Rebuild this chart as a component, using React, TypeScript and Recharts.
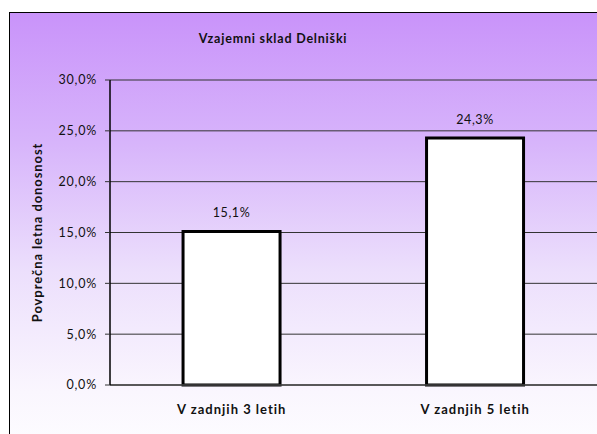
import { BarChart, Bar, XAxis, YAxis, CartesianGrid, LabelList } from 'recharts'

const categories = ['V zadnjih 3 letih', 'V zadnjih 5 letih']
const donosnost = [15.1, 24.3]
const yTicks = [0, 5, 10, 15, 20, 25, 30]

const data = categories.map((name, i) => ({ name, value: donosnost[i] }))

const fmt = (v: number) => v.toFixed(1).replace('.', ',') + '%'
const font = 'Lato, "Open Sans", sans-serif'

export default function App() {
  return (
    <div style={{ position: 'fixed', left: 0, top: 0, width: 597, height: 434, background: '#fff', overflow: 'hidden', fontFamily: font }}>
      <div
        style={{
          position: 'absolute',
          left: 9,
          top: 12,
          width: 600,
          height: 430,
          borderLeft: '1.5px solid #000',
          borderTop: '1.5px solid #000',
          background: 'linear-gradient(to bottom, #c993fa 0%, #d7b4fb 30%, #ecdffc 60%, #faf6fe 88%, #fdfcff 100%)',
        }}
      />
      <div style={{ position: 'absolute', left: 163, top: 31, width: 220, textAlign: 'center', fontSize: 12.5, fontWeight: 700, letterSpacing: 0.8, color: '#111' }}>
        Vzajemni sklad Delniški
      </div>
      <div style={{ position: 'absolute', left: 0, top: 0 }}>
        <BarChart width={597} height={434} data={data} margin={{ top: 80, right: 0, bottom: 19, left: 50 }} barCategoryGap="30%">
          <CartesianGrid vertical={false} stroke="#333" strokeWidth={1} />
          <XAxis
            dataKey="name"
            height={30}
            axisLine={{ stroke: '#444', strokeWidth: 1.5 }}
            tickLine={false}
            tick={{ fontSize: 13, fontWeight: 700, fill: '#111', fontFamily: font, letterSpacing: 1 }}
            tickMargin={14}
          />
          <YAxis
            width={60}
            domain={[0, 30]}
            ticks={yTicks}
            tickFormatter={fmt}
            axisLine={{ stroke: '#000', strokeWidth: 1.5 }}
            tickLine={{ stroke: '#333' }}
            tickSize={5}
            tickMargin={8}
            tick={{ fontSize: 12.5, fill: '#111', fontFamily: font, letterSpacing: 0.8 }}
            label={{
              value: 'Povprečna letna donosnost',
              angle: -90,
              position: 'insideLeft',
              offset: -13,
              style: { fontSize: 13, fontWeight: 700, fill: '#111', fontFamily: font, textAnchor: 'middle', letterSpacing: 0.9 },
            }}
          />
          <Bar dataKey="value" fill="#fff" stroke="#000" strokeWidth={3} isAnimationActive={false}>
            <LabelList dataKey="value" position="top" offset={14} formatter={(v: any) => fmt(Number(v))} style={{ fontSize: 12.5, fill: '#111', fontFamily: font, letterSpacing: 0.6 }} />
          </Bar>
        </BarChart>
      </div>
    </div>
  )
}
